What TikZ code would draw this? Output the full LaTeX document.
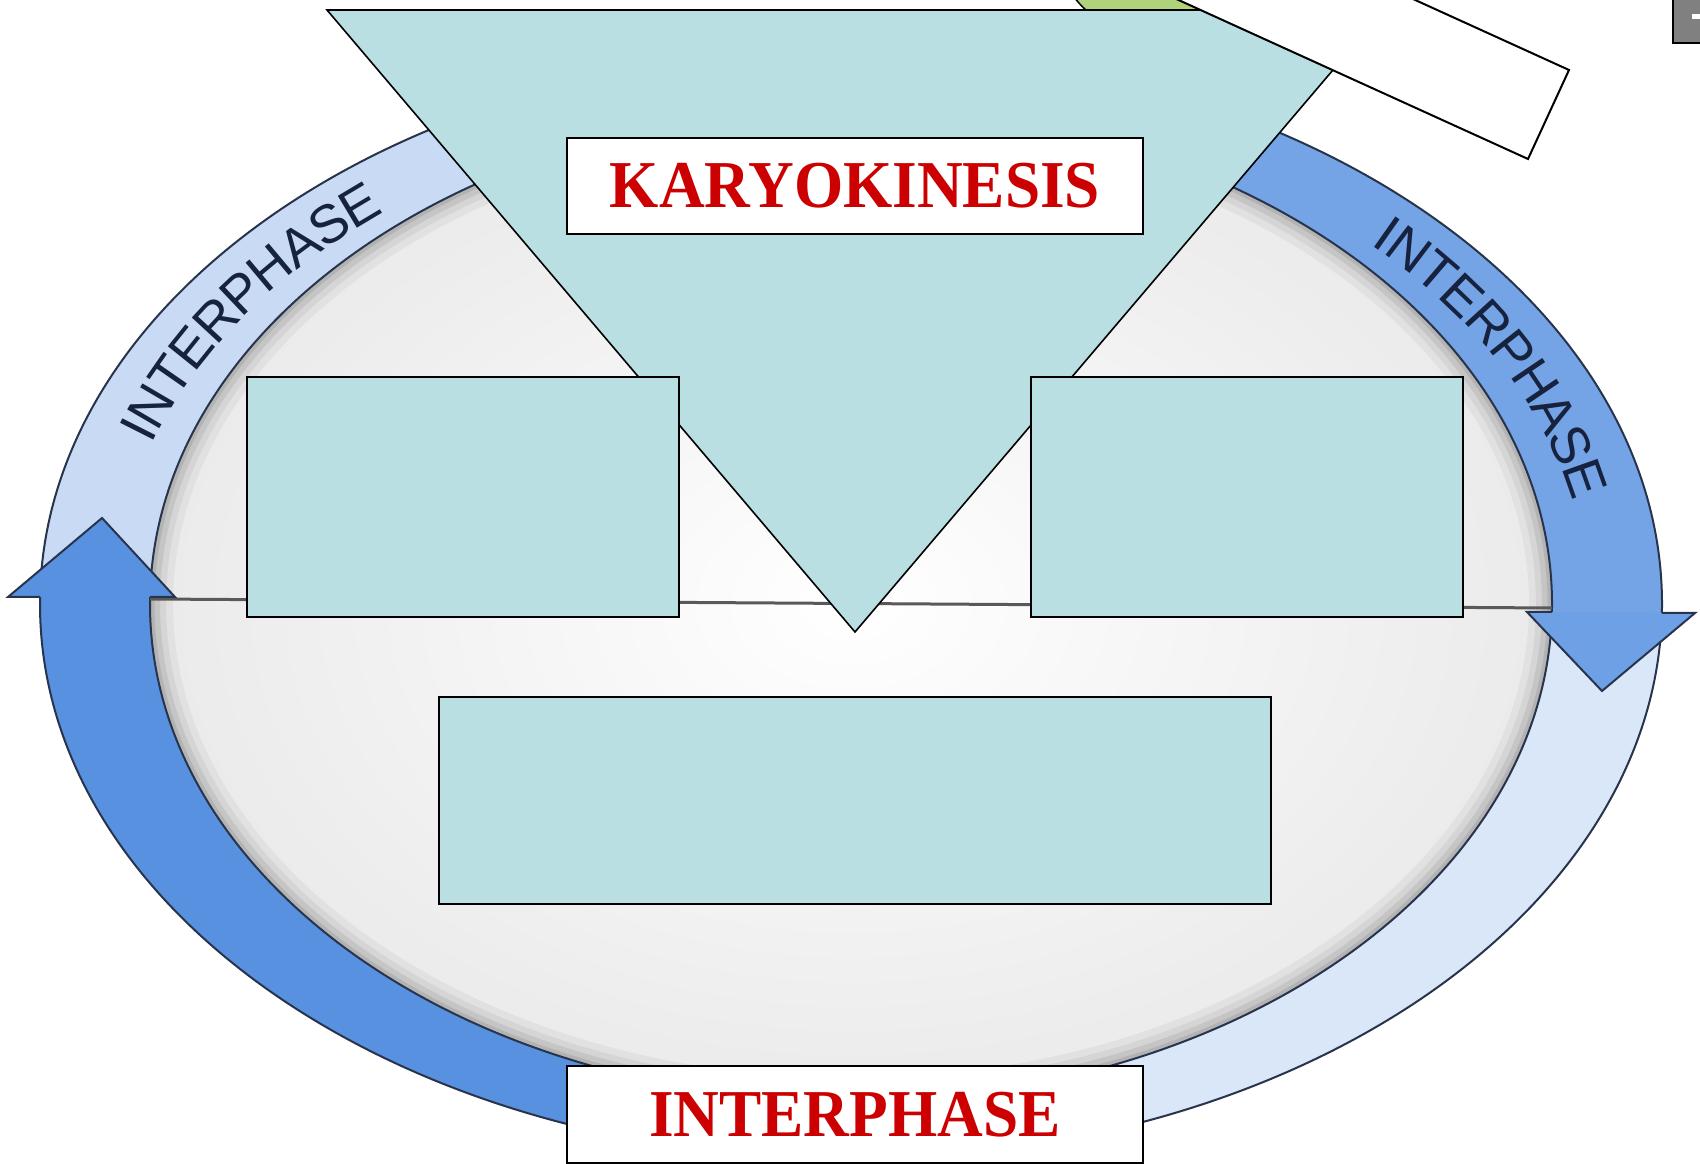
\documentclass[tikz,border=0pt]{standalone}
\usepackage{fontspec}
\setmainfont{Liberation Serif}
\newfontfamily\arcfont{Liberation Sans}
\usepackage{graphicx}
\usetikzlibrary{calc,decorations.text}

\definecolor{panel}{RGB}{185,223,227}
\definecolor{labelred}{RGB}{204,0,0}
\definecolor{ringpale}{RGB}{201,218,244}
\definecolor{ringmid}{RGB}{116,164,230}
\definecolor{ringdeep}{RGB}{88,145,224}
\definecolor{ringfaint}{RGB}{218,231,249}
\definecolor{ringline}{RGB}{40,52,75}
\definecolor{ringtext}{RGB}{22,34,62}
\definecolor{leaf}{RGB}{176,210,122}

% annular sector of the cycle ring: colour, start angle, end angle
\newcommand{\ringsector}[3]{%
  \fill[#1] ($(C)+(#2:811 and 555)$)
    arc[start angle=#2,end angle=#3,x radius=811,y radius=555]
    -- ($(C)+(#3:701 and 497)$)
    arc[start angle=#3,end angle=#2,x radius=701,y radius=497] -- cycle;}
\newcommand{\redlabel}[1]{\scalebox{0.945}[1]{\fontsize{67}{67}\selectfont\bfseries\color{labelred}#1}}

\begin{document}
\begin{tikzpicture}[x=1pt,y=1pt,
  panelbox/.style={draw=black,fill=panel,line width=2pt,inner sep=0pt,outer sep=0pt},
  titlebox/.style={draw=black,fill=white,line width=2pt,inner sep=0pt,outer sep=0pt,
                   minimum width=576pt,minimum height=96pt},
  ringedge/.style={draw=ringline,line width=2pt},
  headshape/.style={fill=ringdeep},
  headedge/.style={draw=ringline,line width=2pt,line join=miter},
  arclabel/.style={decorate,decoration={text along path,text align=center,raise=-19pt,
     text color=ringtext,text={|\arcfont\fontsize{54}{54}\selectfont|INTERPHASE}}}]

\useasboundingbox (0,0) rectangle (1700,1164);
\clip (0,0) rectangle (1700,1164);
\fill[white] (0,0) rectangle (1700,1164);

\coordinate (C) at (851,560);

% ---- disc of the cycle ----
\begin{scope}
  \clip (C) ellipse[x radius=701,y radius=497];
  \shade[inner color=white,outer color=black!8] (C) ellipse[x radius=701,y radius=497];
  \foreach \w/\o in {46/0.04,32/0.05,20/0.07,9/0.09}
    \draw[black,opacity=\o,line width=\w pt] (C) ellipse[x radius=701,y radius=497];
\end{scope}

% ---- ring segments ----
\ringsector{ringpale}{90}{179}
\ringsector{ringdeep}{179}{272}
\ringsector{ringfaint}{272}{358.5}
\ringsector{ringmid}{-1.5}{91}
\draw[ringedge] (C) ellipse[x radius=811,y radius=555];
\draw[ringedge] (C) ellipse[x radius=701,y radius=497];

% dividing line across the disc
\coordinate (midL) at (150,565);
\coordinate (midR) at (1552,556);
\draw[black!65,line width=3pt] (midL) -- (midR);

% ---- arrowheads ----
\coordinate (lA) at (8,567);   \coordinate (lT) at (102,646);  \coordinate (lB) at (175,567);
\coordinate (lo) at (40,567);  \coordinate (li) at (150,567);
\fill[headshape] (lA) -- (lT) -- (lB) -- cycle;
\draw[headedge] (lo) -- (lA) -- (lT) -- (lB) -- (li);

\coordinate (rA) at (1527,552); \coordinate (rT) at (1602,473); \coordinate (rB) at (1695,551);
\coordinate (ri) at (1552,552); \coordinate (ro) at (1662,551);
\fill[headshape,fill=ringmid!80!ringdeep] (rA) -- (rT) -- (rB) -- cycle;
\draw[headedge] (ri) -- (rA) -- (rT) -- (rB) -- (ro);

% ---- curved labels on the ring ----
\path[arclabel] ($(C)+(177:756 and 526)$) arc[start angle=177,end angle=117,x radius=756,y radius=526];
\path[arclabel] ($(C)+(57.5:756 and 526)$) arc[start angle=57.5,end angle=-3.5,x radius=756,y radius=526];

% ---- green shape behind the funnel ----
\coordinate (leafc) at (1150,1224);
\draw[fill=leaf,line width=1.5pt] (leafc) circle[radius=95];

% ---- funnel triangle ----
\coordinate (tL) at (327,1154);
\coordinate (tR) at (1384,1154);
\coordinate (tP) at (855,532);
\draw[fill=panel,line width=1.6pt,line join=miter] (tL) -- (tR) -- (tP) -- cycle;

% ---- tilted white strip ----
\coordinate (s1) at (1569,1094);
\coordinate (s2) at (1528,1005);
\coordinate (s3) at (1073,1212);
\coordinate (s4) at (1114,1301);
\draw[fill=white,line width=2pt] (s1) -- (s2) -- (s3) -- (s4) -- cycle;

% ---- boxes ----
\node[panelbox,minimum width=432pt,minimum height=240pt] (leftbox) at (463,667) {};
\node[panelbox,minimum width=432pt,minimum height=240pt] (rightbox) at (1247,667) {};
\node[panelbox,minimum width=832pt,minimum height=207pt] (lowbox) at (855,363.5) {};
\node[titlebox] (karyo) at (855,978) {\redlabel{KARYOKINESIS}};
\node[titlebox,minimum height=97pt] (inter) at (855,49.5) {\redlabel{INTERPHASE}};

% ---- grey corner tab ----
\coordinate (g1) at (1673,1121);
\coordinate (g2) at (1712,1176);
\draw[fill=black!50,line width=2pt] (g1) rectangle (g2);
\coordinate (d1) at (1692,1147);
\coordinate (d2) at (1712,1147);
\draw[white,line width=5pt] (d1) -- (d2);
\end{tikzpicture}
\end{document}
